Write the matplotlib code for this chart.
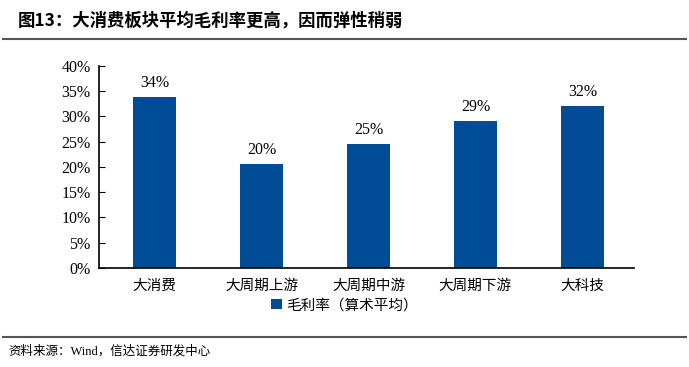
import matplotlib
matplotlib.use('Agg')
import matplotlib.pyplot as plt
from matplotlib.ticker import PercentFormatter
from matplotlib.lines import Line2D

plt.rcParams['font.family'] = ['Liberation Serif', 'Noto Sans CJK SC']

categories = ['大消费', '大周期上游', '大周期中游', '大周期下游', '大科技']
margin = [0.338, 0.205, 0.246, 0.291, 0.320]
labels = ['34%', '20%', '25%', '29%', '32%']
series_name = '毛利率（算术平均）'
title = '图13：大消费板块平均毛利率更高，因而弹性稍弱'
source = '资料来源：Wind，信达证券研发中心'

BAR_COLOR = '#004C97'

fig = plt.figure(figsize=(6.89, 3.67), dpi=100)
ax = fig.add_axes([0.1437, 0.2698, 0.776, 0.5504])

x = range(len(categories))
bars = ax.bar(x, margin, width=0.4, color=BAR_COLOR, label=series_name)
for xi, v, lab in zip(x, margin, labels):
    ax.text(xi, v + 0.012, lab, ha='center', va='bottom', fontsize=11.5)

ax.set_ylim(0, 0.40)
ax.set_xlim(-0.52, 4.48)
ax.set_yticks([i * 0.05 for i in range(9)])
ax.yaxis.set_major_formatter(PercentFormatter(1.0, decimals=0))
ax.tick_params(axis='y', direction='in', length=4, labelsize=11.5, pad=6)
ax.tick_params(axis='x', length=0, pad=8)
ax.set_xticks(list(x))
ax.set_xticklabels(categories, family=['Noto Sans CJK SC'], fontsize=10.5)
for s in ['top', 'right']:
    ax.spines[s].set_visible(False)
ax.spines['left'].set_linewidth(1.2)
ax.spines['bottom'].set_linewidth(1.2)

leg = fig.legend(handles=[bars], labels=[series_name], loc='center',
                 bbox_to_anchor=(0.5, 0.168), frameon=False, handlelength=0.7,
                 handleheight=0.7, handletextpad=0.3,
                 prop={'family': ['Noto Sans CJK SC'], 'size': 10.5})

fig.text(0.026, 0.945, title, family=['Noto Sans CJK SC'], fontweight='bold',
         fontsize=12.5, va='center')
fig.add_artist(Line2D([0.005, 0.995], [0.893, 0.893], color='#555555', lw=1.5,
                      transform=fig.transFigure))
fig.add_artist(Line2D([0.005, 0.995], [0.082, 0.082], color='#555555', lw=1.5,
                      transform=fig.transFigure))
fig.text(0.012, 0.042, source, family=['Liberation Serif', 'Noto Sans CJK SC'],
         fontsize=9, va='center')

fig.savefig('out.png', dpi=100)
